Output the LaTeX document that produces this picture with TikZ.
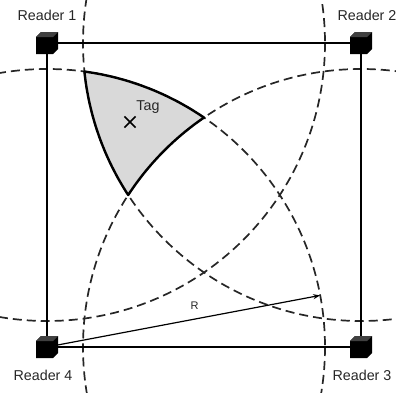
\documentclass[tikz,border=0pt]{standalone}
\usepackage{fontspec}
\setmainfont{Liberation Sans}
\usetikzlibrary{shapes.misc, arrows.meta}
\tikzset{
  readrange/.style={dash pattern=on 9pt off 5pt, line width=1.7pt, black!85},
  frame/.style={line width=1.9pt},
  zone/.style={fill=black!15, draw=black, line width=2.4pt, line join=round},
  readerlbl/.style={font=\fontsize{14.3}{16}\selectfont, text=black!85},
}
\newcommand{\readerbox}[1]{%
  \fill[black] ([shift={(-11,11)}]#1) -- ++(17,0) -- ++(5,-5) -- ++(0,-17) -- ++(-17,0) -- ++(-5,5) -- cycle;
  \fill[black!75] ([shift={(-11,-6)}]#1) -- ++(5,-5) -- ++(17,0) -- ++(-5,5) -- cycle;
}
\begin{document}
\begin{tikzpicture}[x=1pt, y=-1pt]
	\useasboundingbox (0,0) rectangle (396,392);
	\coordinate (r1) at (47,43);
	\coordinate (r2) at (361,43);
	\coordinate (r3) at (361,347);
	\coordinate (r4) at (47,347);
	% reading ranges
	\begin{scope}
		\clip (0,0) rectangle (396,392);
		\foreach \r in {r1,r2,r3,r4}
			\draw[readrange] (\r) circle[radius=278];
	\end{scope}
	% area where the tag can be
	\filldraw[zone] ([shift={(-82.27:278)}]r4) arc[start angle=-82.27, end angle=-55.62, radius=278]
		arc[start angle=-124.38, end angle=-146.85, radius=278]
		arc[start angle=146.85, end angle=174.12, radius=278] -- cycle;
	\draw[frame] (r1) -- (r2) -- (r3) -- (r4) -- cycle;
	\draw[-{Stealth[length=7pt, width=5pt]}, line width=1.2pt] (r4) -- ++(-10.7:278)
		node[pos=0.54, above=6pt, font=\fontsize{11}{13}\selectfont, text=black!85] (rlbl) {R};
	\foreach \r in {r1,r2,r3,r4}
		\readerbox{\r};
	\node[readerlbl] (l1) at (47,15) {Reader 1};
	\node[readerlbl] (l2) at (367,15) {Reader 2};
	\node[readerlbl] (l3) at (362,375) {Reader 3};
	\node[readerlbl] (l4) at (43,375) {Reader 4};
	\node[draw, cross out, line width=1.6pt, minimum size=9.5pt, inner sep=0pt] (tag) at (130,122) {};
	\node[readerlbl] (taglbl) at (148,107) {Tag};
\end{tikzpicture}
\end{document}
